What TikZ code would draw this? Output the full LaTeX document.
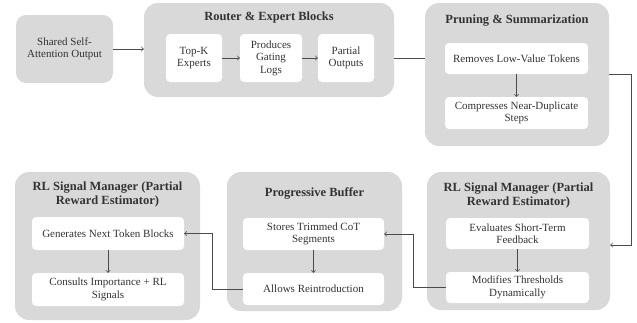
\documentclass[tikz,border=0pt]{standalone}
\usepackage{fontspec}
\setmainfont{Liberation Serif}
\usepackage{tikz}
\usetikzlibrary{calc}
\definecolor{grpgray}{HTML}{D9D9D9}
\definecolor{txtgray}{HTML}{333333}
\definecolor{lngray}{HTML}{4A4A4A}
\tikzset{%
	group/.style    = {fill=grpgray, rounded corners=14pt, inner sep=0pt},
	block/.style    = {fill=white, rounded corners=4pt, inner sep=1pt, align=center,
		text=txtgray, font=\fontsize{11}{12.5}\selectfont},
	title/.style    = {align=center, text=txtgray, font=\fontsize{12.5}{14}\selectfont\bfseries},
	conn/.style     = {draw=lngray, line width=0.8pt}
}

\begin{document}
\begin{tikzpicture}[x=1pt,y=-1pt]
                \useasboundingbox (0,0) rectangle (637,322);
                % groups
                \node[group, minimum width=97pt, minimum height=68pt, rounded corners=10pt,
                      align=center, text=txtgray, font=\fontsize{11}{12.5}\selectfont]
                      (shared) at (64.5,49) {Shared Self-\\Attention Output};
                \node[group, minimum width=250pt, minimum height=94pt] (router) at (269,50) {};
                \node[group, minimum width=184pt, minimum height=143pt] (pruning) at (517,74.5) {};
                \node[group, minimum width=183pt, minimum height=138pt] (rlright) at (518.5,241) {};
                \node[group, minimum width=175pt, minimum height=139pt] (buffer) at (314.5,241.5) {};
                \node[group, minimum width=185pt, minimum height=148pt] (rlleft) at (107.5,246) {};

                % titles
                \node[title] (routertitle) at (269,17) {Router \& Expert Blocks};
                \node[title] (pruningtitle) at (517,21) {Pruning \& Summarization};
                \node[title] (rlrighttitle) at (518.5,195) {RL Signal Manager (Partial\\Reward Estimator)};
                \node[title] (buffertitle) at (314.5,193) {Progressive Buffer};
                \node[title] (rllefttitle) at (107.5,194) {RL Signal Manager (Partial\\Reward Estimator)};

                % blocks
                \node[block, minimum width=56pt, minimum height=48pt] (topk) at (194,58) {Top-K\\Experts};
                \node[block, minimum width=62pt, minimum height=48pt] (gating) at (271,58) {Produces\\Gating\\Logs};
                \node[block, minimum width=56pt, minimum height=48pt] (partial) at (346,58) {Partial\\Outputs};
                \node[block, minimum width=143pt, minimum height=31pt] (removes) at (516.5,58.5) {Removes Low-Value Tokens};
                \node[block, minimum width=143pt, minimum height=32pt] (compresses) at (516.5,113) {Compresses Near-Duplicate\\Steps};
                \node[block, minimum width=143pt, minimum height=31pt] (evaluates) at (517.5,233.5) {Evaluates Short-Term\\Feedback};
                \node[block, minimum width=143pt, minimum height=31pt] (modifies) at (517.5,287.5) {Modifies Thresholds\\Dynamically};
                \node[block, minimum width=141pt, minimum height=32pt] (stores) at (313.5,234) {Stores Trimmed CoT\\Segments};
                \node[block, minimum width=141pt, minimum height=32pt] (allows) at (313.5,289) {Allows Reintroduction};
                \node[block, minimum width=152pt, minimum height=33pt] (generates) at (108,233.5) {Generates Next Token Blocks};
                \node[block, minimum width=152pt, minimum height=33pt] (consults) at (108,289.5) {Consults Importance + RL\\Signals};

                % connectors
                \draw[conn,->] (shared.east) -- (shared.east -| router.west);
                \draw[conn,->] (topk) -- (gating);
                \draw[conn,->] (gating) -- (partial);
                \draw[conn] (router.east |- partial) -- (pruning.west |- partial);
                \draw[conn,->] (removes) -- (compresses);
                \draw[conn,->] (pruning.east) -- ++(22,0) |- ($(rlright.east)+(0,4)$);
                \draw[conn,->] (evaluates) -- (modifies);
                \draw[conn,->] (modifies.west) -- ++(-32,0) |- (stores.east);
                \draw[conn,->] (stores) -- (allows);
                \draw[conn,->] (allows.west) -- ++(-30,0) |- (generates.east);
                \draw[conn,->] (generates) -- (consults);
            \end{tikzpicture}
\end{document}
